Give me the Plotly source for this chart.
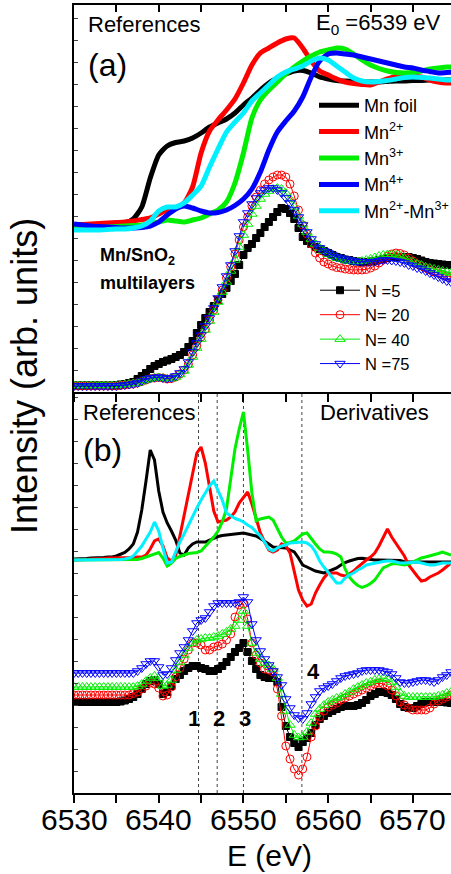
import plotly.graph_objects as go

# ---------------------------------------------------------------- data
# energy grids (eV)
E_REF = [6530 + k for k in range(46)]            # reference spectra, 1 eV step
E_FINE = [6530 + 0.5 * k for k in range(90)]     # samples and derivatives, 0.5 eV step

# (a) XANES of the reference compounds (vertically offset, arb. units)
MN_FOIL = [166, 166, 166.5, 167, 167.5, 168, 169, 173, 185, 214, 237, 246, 249.5, 251, 254, 259,
           265, 269, 273, 279, 287, 294, 302, 309, 314, 318, 321, 321.5, 319, 315, 313, 311.5,
           311, 310.5, 310, 310, 310, 310.5, 311, 311, 311.5, 311.5, 312, 312, 312, 312]
MN2 = [167, 167.5, 168, 168.5, 169, 169.5, 170, 171, 172.5, 174, 178, 182, 184.5, 189, 205, 239,
       261, 272, 282, 293, 309, 327, 339, 344, 349, 353, 354, 344, 331, 321, 317, 313,
       310, 308.5, 307.5, 307, 310, 313, 315.5, 317, 316, 315, 312, 310, 309, 309]
MN3 = [164, 164, 164, 164.5, 165, 165.5, 166, 166.5, 167, 168, 170, 172, 171, 170, 172, 174,
       178, 182, 190, 209, 239, 274, 292, 302, 310, 318, 325, 331, 336, 340, 342, 344,
       343, 338, 332, 327, 323.5, 321, 319.5, 319, 319.5, 321, 323, 324, 325, 325]
MN4 = [168, 167, 166, 165.5, 165, 164.5, 164, 164, 164.5, 166, 170, 177, 183, 186, 184, 181,
       179, 179.5, 182, 186.5, 193, 203, 220, 242, 260, 271, 281, 295, 315, 331, 338, 339,
       338, 337, 335, 333, 331, 329, 327, 325, 324, 322, 320.5, 319, 319.5, 320]
MN23 = [162, 162, 162, 162, 162.5, 163, 163, 164, 166, 171, 181, 185, 185, 189, 197, 206,
        225, 243, 260, 270, 279, 291, 299, 307, 315, 320, 323, 326, 331, 334, 332, 326,
        320, 314, 311, 310, 310.5, 311.5, 313, 314.5, 315, 314.5, 314, 313, 312, 312]

# (a) XANES of the Mn/SnO2 multilayers
N5_XANES = [6.5, 6.5, 6.5, 6.5, 6.5, 6.5, 6.5, 6.5, 6.5, 6.5,
            7, 7.5, 8, 9, 10, 13, 16, 19, 23, 26,
            28, 30, 31.5, 33, 35, 37, 40, 45, 51, 59,
            67, 74, 80, 86, 92, 98, 104, 111, 118, 127,
            137, 144, 148, 154, 159, 165, 170, 175, 180, 184,
            183, 179, 173, 164, 155, 151, 148, 145, 143, 141,
            139, 137, 135, 134, 132.5, 132, 131, 130.5, 130, 130,
            130.5, 131, 132, 133, 134, 135, 135, 135, 135, 135,
            134, 133, 131.5, 130, 129, 128.5, 128, 127.5, 127, 127]
N20_XANES = [6, 6, 6, 6, 6, 6, 6, 6, 6, 6,
             6, 6.5, 7, 7.5, 8, 9, 10.5, 12, 13.5, 14,
             14.5, 14, 13, 13.5, 15, 18, 22, 28, 37, 46,
             55, 63, 72, 82, 92, 102, 114, 125, 138, 152,
             165, 175, 186, 195, 202, 208, 212, 215, 217, 217,
             215, 208, 196, 182, 167, 158, 148, 139, 134, 130,
             128, 126, 124.5, 124, 123, 122.5, 122, 122, 122, 122.5,
             124, 126, 129, 132, 136, 138, 139, 138.5, 137, 134,
             131, 128, 126, 124, 122, 120, 119, 117.5, 116, 115]
N40_XANES = [6.5, 6.5, 6.5, 6.5, 6.5, 6.5, 6.5, 6.5, 6.5, 6.5,
             6.5, 7, 7.5, 8, 8.5, 9, 10.5, 12, 13, 14,
             14.5, 14, 13, 13.5, 15, 17.5, 21, 27, 35, 44,
             53, 62, 71, 80, 90, 100, 110, 121, 132, 145,
             157, 168, 178, 186, 193, 198, 201, 203, 204, 203,
             199, 193, 185, 176, 168, 160, 153, 148, 144, 141,
             138, 136, 134, 133, 132, 131, 130.5, 130.5, 131, 132,
             133, 134.5, 136, 137, 137.5, 137.5, 137, 136, 134, 132,
             130, 128, 127, 125, 124, 123, 122, 121, 120, 119]
N75_XANES = [6, 6, 6, 6, 6, 6, 6, 6, 6, 6,
             6, 6.5, 7, 7.5, 8, 9, 11, 13, 14, 14.5,
             15, 14, 13.5, 14, 16, 19, 23, 30, 40, 49,
             57, 66, 74, 84, 94, 105, 116, 127, 141, 156,
             170, 179, 188, 194, 199, 202, 204, 204, 202, 199,
             194, 189, 182, 175, 167, 160, 153, 148, 144, 141,
             139, 137, 135, 134, 133, 132, 131, 130.5, 130, 130,
             130, 130.5, 131, 132, 132, 131.5, 131, 130, 129, 127,
             126, 124, 123, 121, 119, 117, 115, 113, 111, 110]

# (b) first derivatives of the references (offset, arb. units)
D_MN_FOIL = [234, 234, 234.5, 234.5, 235, 235, 235.5, 235.5, 236, 236,
             237, 238.5, 240.5, 244, 249, 261, 283, 312, 343, 333,
             302, 281, 270, 262, 253, 240, 238, 245, 249, 251,
             251, 251, 253, 255, 256.5, 257.5, 258, 259, 259.5, 260,
             260, 259, 258, 257, 254.5, 252, 249, 246, 245.5, 245,
             245, 243, 241, 235, 228, 226, 224, 222, 221, 220,
             221.5, 223, 225, 228, 230.5, 232, 233.5, 234.5, 234.7, 234,
             233.5, 233, 233, 233, 233, 233, 233, 232.5, 231.3, 231,
             231, 231, 231, 231, 231, 231, 231, 231, 231, 231]
D_MN2 = [233, 233, 233.5, 233.5, 234, 234, 234.5, 234.5, 235, 235,
         235, 235, 235, 235, 235.5, 236, 236, 238, 244, 252,
         254, 247, 235, 232, 237, 257, 278, 299, 320, 340,
         346, 330, 306, 282, 271, 272, 273, 276, 281, 290,
         296, 301, 289, 275, 260, 251, 243, 241, 243, 249,
         247, 240, 223, 203, 193, 187, 189, 200, 208, 215,
         220, 220, 220, 218, 217, 219, 222, 226, 230, 233,
         236, 240, 247, 255, 264, 256, 250, 244, 237, 228,
         222, 217, 212, 213, 216, 218, 220, 223, 227, 230]
D_MN3 = [233, 233, 233, 233, 233, 233, 233, 233, 233, 233,
         233, 233, 233, 233, 233, 233.5, 234.5, 236, 238, 239.5,
         240.5, 235, 227, 230, 234.5, 236.5, 238, 239.5, 240, 240.5,
         242, 246.5, 250.5, 256, 262, 271, 284, 315, 344, 364,
         381, 343, 300, 272, 274, 275, 276, 273, 265, 256,
         250, 250.5, 252, 256, 259, 260, 254, 249, 244, 241,
         241, 240.5, 239, 236, 224, 216, 211, 207.5, 205.5, 207,
         209.5, 213, 219, 225, 227, 229, 229.5, 229, 228, 229,
         231, 233, 235, 236, 237, 238, 239.5, 241, 239.5, 238]
D_MN23 = [233, 233, 233, 233, 233, 233, 233, 233, 233, 233,
          233, 233.5, 234, 235, 237, 242, 247, 254, 261, 271,
          262, 245, 230, 231, 241, 251, 259, 268, 276, 285,
          293, 300, 307, 312, 302, 293, 280, 277, 274.5, 273,
          271, 268, 265.5, 261, 257, 251, 244, 242, 245, 247,
          248, 250, 250.5, 251, 251, 250, 247, 241, 232, 226,
          221, 215, 210, 210, 215, 218, 220, 223, 225, 228,
          229, 230, 231, 231.5, 232, 232, 231, 230, 230, 230.5,
          231, 231, 230, 229, 228, 228, 229, 230, 230, 230]

# (b) first derivatives of the multilayers
N5_DERIV = [91, 91, 91, 91, 91, 91, 91, 91, 91, 91,
            91, 91.5, 92.5, 94, 96, 99, 104, 109, 112, 113,
            109, 99, 101, 107, 114, 118, 122, 125, 127, 127,
            125, 124, 122, 122, 124, 127, 131, 136, 141, 145,
            150, 141, 132, 124, 118, 116, 115, 115, 111, 86,
            67, 56, 50, 46, 51, 55, 60, 68, 74, 77,
            80, 82, 84, 86, 87, 87, 87, 88, 90, 93,
            97, 99, 101, 101, 100, 98, 94, 89, 86, 85,
            85, 87, 89, 91, 91, 91, 91, 91, 90.5, 90]
N20_DERIV = [98, 98, 98, 98, 98, 98, 98, 98, 98, 98,
             98, 98, 98, 98, 99.5, 101, 104, 107, 110, 109,
             105, 97, 98, 106, 116, 125, 134, 143, 150, 150,
             148, 143, 143, 146, 147, 149, 153, 159, 176, 188,
             189, 174, 150, 138, 130, 124, 123, 121, 104, 77,
             47, 34, 24, 18, 24, 36, 56, 67, 76, 82,
             86, 88, 90, 93, 95, 97, 99, 101, 103, 105,
             107, 109, 110, 109, 107, 103, 97, 91, 88, 85,
             83, 83, 83, 83, 85, 89, 92, 94, 96, 98]
N40_DERIV = [106, 106, 106, 106, 106, 106, 106, 106, 106, 106,
             106, 106, 106, 106, 106, 107, 109, 112, 115, 117,
             115, 107, 108, 113, 123, 131, 138, 145, 150, 153,
             154, 155, 155, 156, 157, 159, 161, 164, 167, 173,
             182, 167, 150, 140, 134, 130, 127.5, 124, 115, 99,
             82, 68, 58, 55.5, 56, 61, 70, 79, 84, 88,
             91, 93, 95, 96, 99, 101, 104, 106, 108, 110,
             111, 113, 114, 115, 114, 111, 106, 100, 97, 96,
             96, 96, 96, 96, 96, 96, 97, 98, 100, 101]
N75_DERIV = [120, 120, 120, 120, 120, 120, 120, 120, 120, 120,
             120, 120, 120, 120, 120, 122, 125, 129, 132, 132,
             126, 118, 119, 125, 133, 140, 146, 153, 162, 170,
             173, 175, 181, 187, 190, 190, 190, 190, 190, 191,
             196, 191, 169, 153, 142, 134, 128, 122, 116, 108,
             94, 85, 78, 75, 74, 80, 89, 96, 102, 105,
             107, 109, 112, 115, 117, 118, 119, 120, 122, 123,
             123, 123, 123, 122, 121, 119, 115, 111, 110, 110,
             111, 112, 113, 113, 112, 111, 113, 116, 118, 121]

# energies of the marked derivative features 1-4 (eV)
FEATURE_E = [6544.7, 6546.9, 6550.0, 6556.9]
FEATURE_LABELS = ["1", "2", "3", "4"]

# labelled energy ticks (eV)
E_TICKS = [6530, 6540, 6550, 6560, 6570]

REF_NAMES = ["Mn foil", "Mn<sup>2+</sup>", "Mn<sup>3+</sup>", "Mn<sup>4+</sup>", "Mn<sup>2+</sup>-Mn<sup>3+</sup>"]
SAMPLE_NAMES = ["N =5", "N= 20", "N= 40", "N =75"]

# ---------------------------------------------------------------- styles
FONT = "Arial, 'Liberation Sans', sans-serif"
REF_COLORS = ["#000000", "#ff0000", "#00ee00", "#0000ff", "#00f0ff"]
SAMPLE_COLORS = ["#000000", "#ff0000", "#00ee00", "#0000ff"]
SAMPLE_SYMBOLS = ["square", "circle-open", "triangle-up-open", "triangle-down-open"]
SAMPLE_SIZES = [7, 8, 9, 9]

X_RANGE = [6530, 6574.5]
PLOT_TOP, SPLIT_PX, PLOT_BOTTOM, PLOT_LEFT, FIG_W, FIG_H = 5, 392, 793, 74, 451, 874
PLOT_H = PLOT_BOTTOM - PLOT_TOP
PLOT_W = FIG_W - PLOT_LEFT
SPLIT = (PLOT_BOTTOM - SPLIT_PX) / PLOT_H


def px_x(px):
    return (px - PLOT_LEFT) / PLOT_W


def px_y(py):
    return (PLOT_BOTTOM - py) / PLOT_H


fig = go.Figure()

# (a) references
for name, vals, col in zip(REF_NAMES, [MN_FOIL, MN2, MN3, MN4, MN23], REF_COLORS):
    fig.add_trace(go.Scatter(
        x=E_REF, y=vals, mode="lines", name=name,
        line=dict(color=col, width=5, shape="spline", smoothing=0.6),
        xaxis="x2", yaxis="y2", legend="legend"))

# (a) multilayers
for name, vals, col, sym, size in zip(SAMPLE_NAMES, [N5_XANES, N20_XANES, N40_XANES, N75_XANES],
                                      SAMPLE_COLORS, SAMPLE_SYMBOLS, SAMPLE_SIZES):
    fig.add_trace(go.Scatter(
        x=E_FINE, y=vals, mode="lines+markers", name=name,
        line=dict(color=col, width=1),
        marker=dict(symbol=sym, size=size, color=col, line=dict(color=col, width=1)),
        xaxis="x2", yaxis="y2", legend="legend2"))

# (b) reference derivatives
for vals, col in zip([D_MN_FOIL, D_MN2, D_MN3, D_MN23], [REF_COLORS[0], REF_COLORS[1], REF_COLORS[2], REF_COLORS[4]]):
    fig.add_trace(go.Scatter(
        x=E_FINE, y=vals, mode="lines", showlegend=False,
        line=dict(color=col, width=3), xaxis="x", yaxis="y"))

# (b) multilayer derivatives
for vals, col, sym, size in zip([N5_DERIV, N20_DERIV, N40_DERIV, N75_DERIV],
                                SAMPLE_COLORS, SAMPLE_SYMBOLS, SAMPLE_SIZES):
    fig.add_trace(go.Scatter(
        x=E_FINE, y=vals, mode="lines+markers", showlegend=False,
        line=dict(color=col, width=1),
        marker=dict(symbol=sym, size=size, color=col, line=dict(color=col, width=1)),
        xaxis="x", yaxis="y"))

# carrier for the top frame axis of panel (a)
fig.add_trace(go.Scatter(x=[None], y=[None], xaxis="x3", yaxis="y2", showlegend=False, hoverinfo="skip"))

# dotted markers of the derivative features
for e in FEATURE_E:
    fig.add_shape(type="line", xref="x", yref="y domain", x0=e, x1=e, y0=0, y1=1,
                  line=dict(color="#444444", width=1, dash="dot"), layer="below")

common_x = dict(range=X_RANGE, showgrid=False, zeroline=False, showline=True, linecolor="black",
                linewidth=2, dtick=10, tick0=6530, tickwidth=1.5, tickcolor="black",
                showticklabels=False)
common_y = dict(showgrid=False, zeroline=False, showline=True, linecolor="black", linewidth=2,
                ticks="inside", ticklen=4, tickwidth=1, dtick=22, tick0=0, showticklabels=False)

fig.update_layout(
    width=FIG_W, height=FIG_H,
    margin=dict(l=PLOT_LEFT, r=FIG_W - PLOT_LEFT - PLOT_W, t=PLOT_TOP, b=FIG_H - PLOT_BOTTOM,
                autoexpand=False),
    paper_bgcolor="white", plot_bgcolor="rgba(0,0,0,0)",
    font=dict(family=FONT, color="black"),
    xaxis=dict(common_x, anchor="y", domain=[0, 1], ticks="outside", ticklen=8,
               minor=dict(dtick=5, ticks="outside", ticklen=8, tickwidth=1.5, tickcolor="black")),
    xaxis2=dict(common_x, anchor="y2", domain=[0, 1], side="bottom", ticks="outside", ticklen=8,
                minor=dict(dtick=5, ticks="outside", ticklen=8, tickwidth=1.5, tickcolor="black")),
    xaxis3=dict(common_x, anchor="y2", overlaying="x2", side="top", ticks="inside", ticklen=7,
                minor=dict(dtick=5, ticks="inside", ticklen=7, tickwidth=1.5, tickcolor="black")),
    yaxis=dict(common_y, domain=[0, SPLIT], range=[0, PLOT_BOTTOM - SPLIT_PX]),
    yaxis2=dict(common_y, domain=[SPLIT, 1], range=[0, SPLIT_PX - PLOT_TOP]),
    legend=dict(x=px_x(314), y=px_y(87), xanchor="left", yanchor="top", bgcolor="rgba(0,0,0,0)",
                font=dict(size=18, family=FONT), itemwidth=40, tracegroupgap=0),
    legend2=dict(x=px_x(315), y=px_y(273), xanchor="left", yanchor="top", bgcolor="rgba(0,0,0,0)",
                 font=dict(size=16.5, family=FONT), itemwidth=40, tracegroupgap=0),
    showlegend=True,
)

ann = []


def text(s, px, py, size, xanchor="left", **kw):
    ann.append(dict(text=s, x=px_x(px), y=px_y(py), xref="paper", yref="paper", showarrow=False,
                    xanchor=xanchor, yanchor="middle", font=dict(size=size, family=FONT, color="black"), **kw))


# energy tick labels under panel (b)
for v in E_TICKS:
    ann.append(dict(text=str(v), x=v, xref="x", y=px_y(819), yref="paper", showarrow=False,
                    xanchor="center", yanchor="middle", font=dict(size=30, family=FONT, color="black")))

text("References", 86, 25, 22)
text("(a)", 86, 65, 32)
text("E<sub>0</sub> =6539 eV", 314, 24, 22)
text("<b>Mn/SnO<sub>2</sub></b>", 98, 256, 18)
text("<b>multilayers</b>", 98, 283, 18)
text("References", 81, 412, 22)
text("Derivatives", 318, 412, 22)
text("(b)", 81, 450, 32)
for lab, (cx, cy) in zip(FEATURE_LABELS, [(194, 718), (219, 718), (245, 718), (313, 671)]):
    text("<b>%s</b>" % lab, cx, cy, 22, xanchor="center")
text("Intensity (arb. units)", 24, 376, 36, xanchor="center", textangle=-90)
text("E (eV)", 269, 855, 30, xanchor="center")
fig.update_layout(annotations=ann)

fig.write_html("out.html")
